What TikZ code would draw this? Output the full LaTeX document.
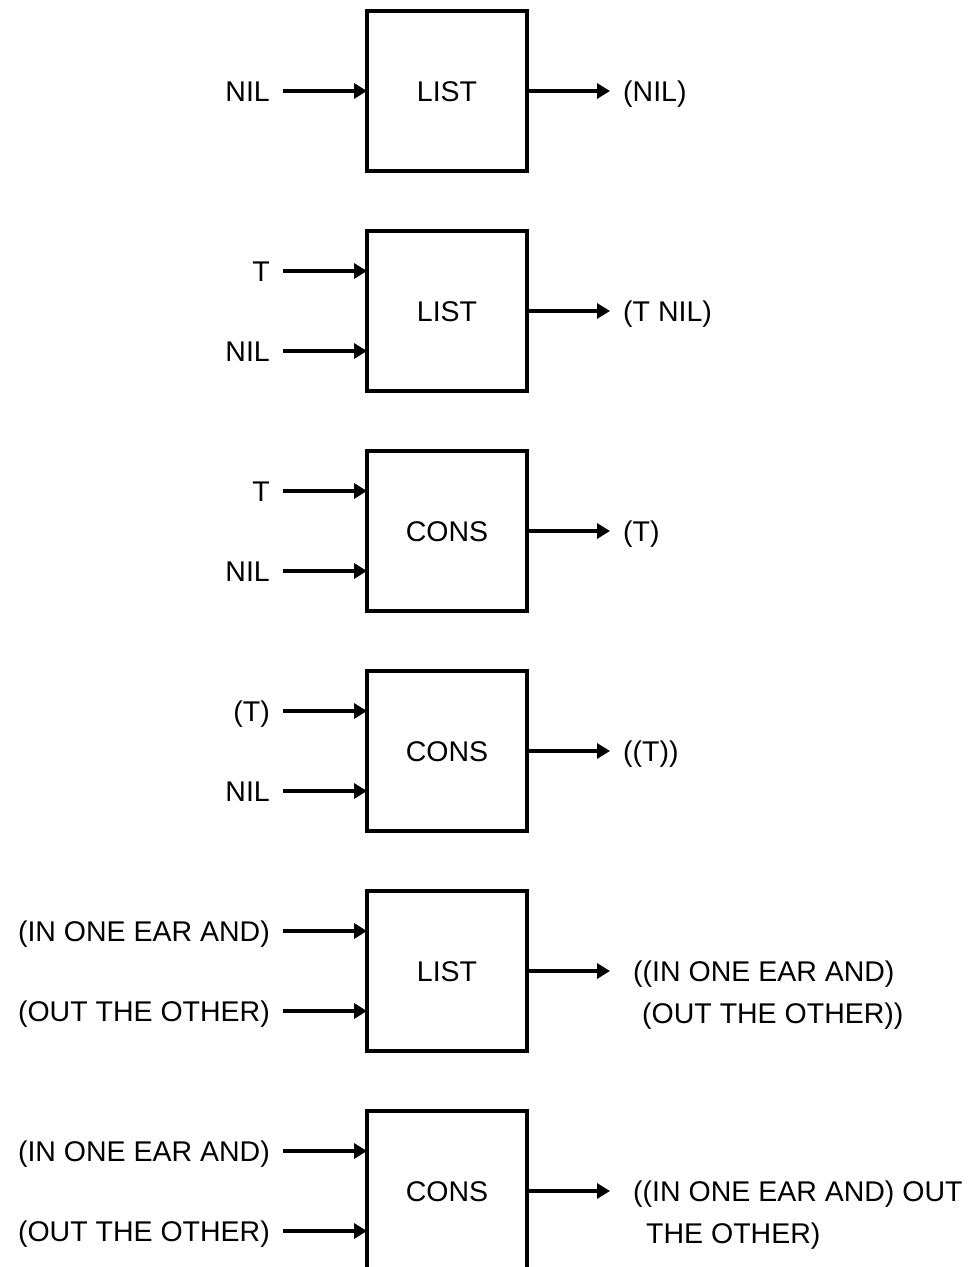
\documentclass[tikz,border=0pt]{standalone}
\usepackage{fontspec}
\setmainfont{Liberation Sans}
\usetikzlibrary{arrows.meta,positioning}
\newcommand{\diagfont}{\fontsize{28.5}{42}\selectfont}

\begin{document}
\begin{tikzpicture}[x=1pt, y=-1pt,
    fnbox/.style={rectangle, draw, line width=3.2pt, minimum width=160pt,
                  minimum height=160pt, outer sep=0pt, font=\diagfont,
                  text height=20.4pt, text depth=0pt},
    lbl/.style={anchor=east, inner xsep=13pt, inner ysep=0pt, font=\diagfont,
                text height=20.4pt, text depth=0pt},
    res/.style={anchor=west, inner xsep=13pt, inner ysep=0pt, font=\diagfont,
                text height=20.4pt, text depth=0pt},
    res2/.style={anchor=north west, inner xsep=13pt, inner ysep=0pt,
                 align=left, font=\diagfont},
    arr/.style={-{Triangle[length=13pt,width=15pt]}, line width=3.2pt},
  ]
    \useasboundingbox (0,0) rectangle (979,1267);
    \clip (0,0) rectangle (979,1267);

    % function boxes
    \node[fnbox] (b1) at (447,91) {LIST};
    \node[fnbox, below=60pt of b1] (b2) {LIST};
    \node[fnbox, below=60pt of b2] (b3) {CONS};
    \node[fnbox, below=60pt of b3] (b4) {CONS};
    \node[fnbox, below=60pt of b4] (b5) {LIST};
    \node[fnbox, below=60pt of b5] (b6) {CONS};

    % arguments
    \node[lbl] (a1)  at ([xshift=-84pt]b1.west) {NIL};
    \node[lbl] (a2a) at ([xshift=-84pt,yshift=40pt]b2.west) {T};
    \node[lbl] (a2b) at ([xshift=-84pt,yshift=-40pt]b2.west) {NIL};
    \node[lbl] (a3a) at ([xshift=-84pt,yshift=40pt]b3.west) {T};
    \node[lbl] (a3b) at ([xshift=-84pt,yshift=-40pt]b3.west) {NIL};
    \node[lbl] (a4a) at ([xshift=-84pt,yshift=40pt]b4.west) {(T)};
    \node[lbl] (a4b) at ([xshift=-84pt,yshift=-40pt]b4.west) {NIL};
    \node[lbl] (a5a) at ([xshift=-84pt,yshift=40pt]b5.west) {(IN ONE EAR AND)};
    \node[lbl] (a5b) at ([xshift=-84pt,yshift=-40pt]b5.west) {(OUT THE OTHER)};
    \node[lbl] (a6a) at ([xshift=-84pt,yshift=40pt]b6.west) {(IN ONE EAR AND)};
    \node[lbl] (a6b) at ([xshift=-84pt,yshift=-40pt]b6.west) {(OUT THE OTHER)};

    % results
    \node[res] (r1) at ([xshift=83pt]b1.east) {(NIL)};
    \node[res] (r2) at ([xshift=83pt]b2.east) {(T NIL)};
    \node[res] (r3) at ([xshift=83pt]b3.east) {(T)};
    \node[res] (r4) at ([xshift=83pt]b4.east) {((T))};
    \node[res2] (r5) at ([xshift=93pt,yshift=10.2pt]b5.east)
      {((IN ONE EAR AND)\\\hspace*{9pt}(OUT THE OTHER))};
    \node[res2] (r6) at ([xshift=93pt,yshift=10.2pt]b6.east)
      {((IN ONE EAR AND) OUT\\\hspace*{13pt}THE OTHER)};

    \draw[arr] (a1) -- (a1 -| b1.west);
    \draw[arr] (a2a) -- (a2a -| b2.west);
    \draw[arr] (a2b) -- (a2b -| b2.west);
    \draw[arr] (a3a) -- (a3a -| b3.west);
    \draw[arr] (a3b) -- (a3b -| b3.west);
    \draw[arr] (a4a) -- (a4a -| b4.west);
    \draw[arr] (a4b) -- (a4b -| b4.west);
    \draw[arr] (a5a) -- (a5a -| b5.west);
    \draw[arr] (a5b) -- (a5b -| b5.west);
    \draw[arr] (a6a) -- (a6a -| b6.west);
    \draw[arr] (a6b) -- (a6b -| b6.west);

    \draw[arr] (b1.east) -- (r1);
    \draw[arr] (b2.east) -- (r2);
    \draw[arr] (b3.east) -- (r3);
    \draw[arr] (b4.east) -- (r4);
    \draw[arr, shorten >=10pt] (b5.east) -- (b5.east -| r5.west);
    \draw[arr, shorten >=10pt] (b6.east) -- (b6.east -| r6.west);
  \end{tikzpicture}
\end{document}
